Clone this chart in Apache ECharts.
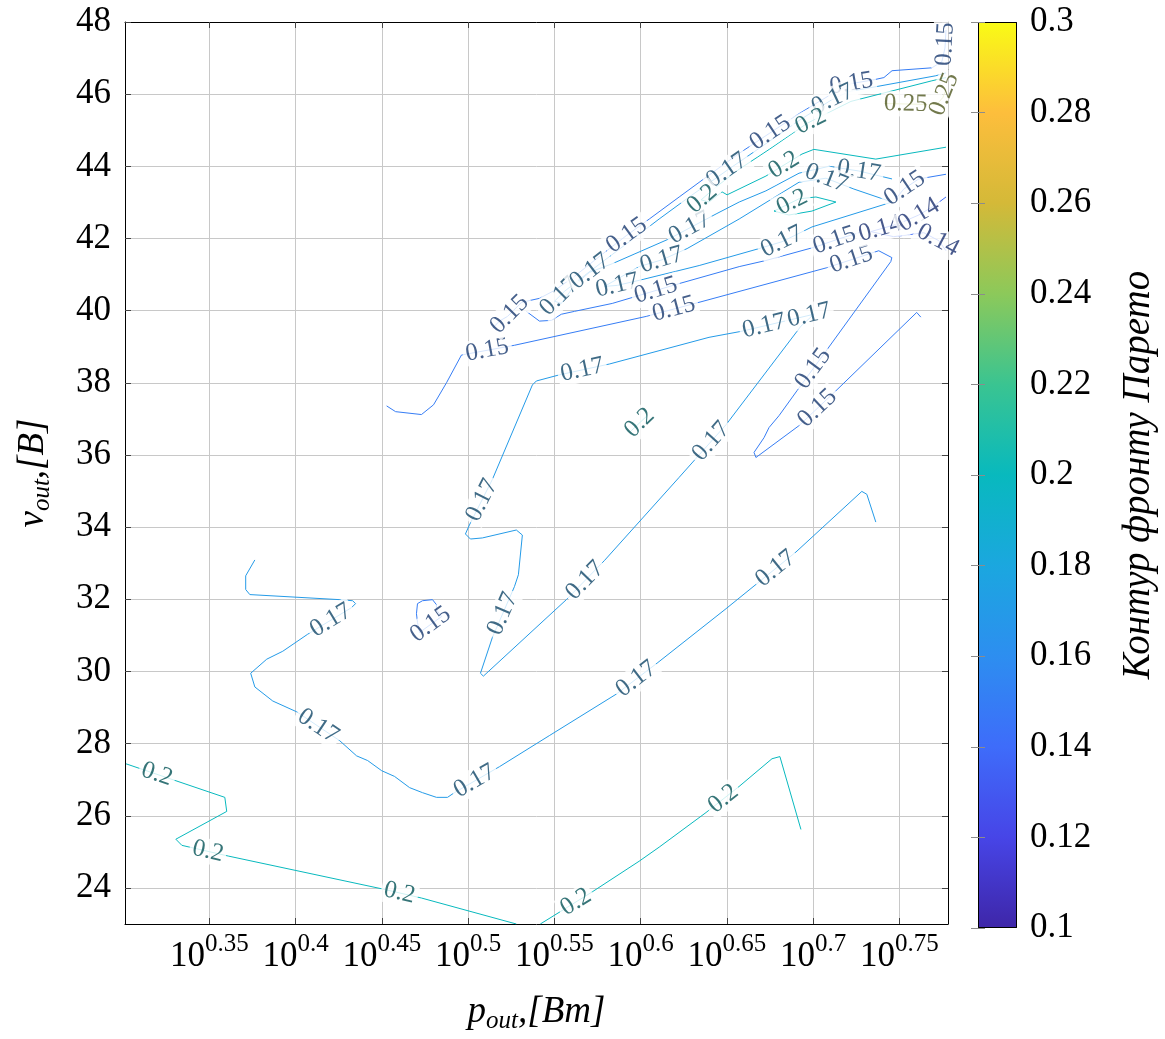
<!DOCTYPE html>
<html>
<head>
<meta charset="utf-8">
<title>Контур фронту Парето</title>
<script src="https://cdn.jsdelivr.net/npm/echarts@6/dist/echarts.min.js"></script>
<style>
  html, body { margin: 0; padding: 0; background: #fff; }
  #chart { width: 1165px; height: 1039px; }
</style>
</head>
<body>
<div id="chart"></div>
<script>
// x is log10(p_out), y is v_out; contour level values go from 0.1 to 0.3
const xTicks = [0.35, 0.4, 0.45, 0.5, 0.55, 0.6, 0.65, 0.7, 0.75];
const xTickLabels = ['0.35', '0.4', '0.45', '0.5', '0.55', '0.6', '0.65', '0.7', '0.75'];
const yTicks = [24, 26, 28, 30, 32, 34, 36, 38, 40, 42, 44, 46, 48];
const xRange = [Math.log10(2), Math.log10(6)];
const yRange = [23, 48];
const levelRange = [0.1, 0.3];

// parula-like colour map, value -> rgb
const colormap = [
  [0.10, [62, 38, 168]], [0.12, [71, 69, 231]], [0.14, [62, 108, 250]],
  [0.16, [45, 142, 240]], [0.18, [27, 167, 223]], [0.20, [8, 185, 190]],
  [0.22, [58, 196, 145]], [0.24, [140, 201, 90]], [0.26, [212, 185, 56]],
  [0.28, [253, 190, 60]], [0.30, [249, 251, 21]]
];

// ---- contour polylines [log10(p), v] and label anchors ----
const c020a = [[0.3016,27.44],[0.3589,26.51],[0.3600,26.12],[0.3305,25.35],[0.3340,25.18],[0.3612,24.88],[0.4504,23.97],[0.4729,23.72],[0.5279,23.00]];
const c020aLab = [[0.3195,27.14],[0.3490,24.99],[0.4602,23.86]];

const c020b = [[0.5418,23.00],[0.5719,23.89],[0.5991,24.74],[0.6107,25.13],[0.6379,26.09],[0.6570,26.81],[0.6761,27.58],[0.6807,27.64],[0.6929,25.62]];
const c020bLab = [[0.5627,23.59],[0.6477,26.48]];

const c017a = [[0.3763,33.09],[0.3710,32.65],[0.3710,32.27],[0.3734,32.13],[0.4255,31.99],[0.4330,31.96],[0.4347,31.88],[0.4324,31.77],[0.4069,31.03],[0.3925,30.56],[0.3832,30.34],[0.3739,29.95],[0.3763,29.57],[0.3867,29.18],[0.4006,28.88],[0.4255,28.08],[0.4353,27.66],[0.4417,27.53],[0.4498,27.25],[0.4573,27.09],[0.4660,26.78],[0.4735,26.64],[0.4816,26.51],[0.4880,26.51],[0.4920,26.64],[0.5181,27.36],[0.5470,28.22],[0.5858,29.37],[0.6095,30.23],[0.6495,31.74],[0.6900,33.31],[0.7282,34.99],[0.7311,34.91],[0.7363,34.14]];
const c017aLab = [[0.4197,31.47],[0.4139,28.55],[0.5036,26.97],[0.5974,29.79],[0.6784,32.84]];

const c015a = [[0.4706,31.36],[0.4700,31.60],[0.4706,31.88],[0.4735,31.96],[0.4793,31.99],[0.4816,31.85],[0.4816,31.71],[0.4845,31.52],[0.4718,31.08],[0.4706,31.36]];
const c015aLab = [[0.4782,31.30]];

const c017b = [[0.5395,38.05],[0.5372,37.94],[0.5140,35.32],[0.5007,34.06],[0.4984,33.81],[0.5013,33.67],[0.5082,33.70],[0.5279,33.92],[0.5314,33.78],[0.5291,32.68],[0.5268,32.35],[0.5140,30.94],[0.5071,29.95],[0.5088,29.87],[0.5569,31.99],[0.5789,33.07],[0.6223,35.38],[0.6495,36.84],[0.6929,39.57],[0.7004,39.90],[0.6587,39.43],[0.6396,39.26],[0.5818,38.52],[0.5528,38.22],[0.5395,38.05]];
const c017bLab = [[0.5661,38.36],[0.5077,34.75],[0.5198,31.60],[0.5673,32.54],[0.6396,36.43],[0.6715,39.57],[0.6975,39.90]];

const c015b = [[0.4527,37.36],[0.4579,37.20],[0.4729,37.12],[0.4799,37.39],[0.4874,38.00],[0.4961,38.77],[0.5268,39.04],[0.6032,39.84],[0.6338,40.23],[0.7079,41.19],[0.7380,41.66],[0.7456,41.47],[0.7450,41.36],[0.7079,38.91],[0.6906,37.78],[0.6802,37.09],[0.6744,36.76],[0.6715,36.48],[0.6657,36.07],[0.6668,35.93],[0.6917,36.81],[0.7132,37.78],[0.7600,39.95],[0.7624,39.82]];
const c015bLab = [[0.5111,38.88],[0.6194,40.01],[0.7224,41.36],[0.6993,38.41],[0.7022,37.31]];

const c020c = [[0.5945,36.67],[0.6038,37.09]];
const c020cLab = [[0.5991,36.90]];

const c015c = [[0.7770,47.78],[0.7764,47.28],[0.7746,46.90],[0.7688,46.73],[0.7457,46.65],[0.7410,46.46],[0.7353,46.40],[0.7219,46.29],[0.7092,45.96],[0.6918,45.46],[0.6745,44.91],[0.6571,44.36],[0.6397,43.76],[0.6223,43.15],[0.6050,42.54],[0.5917,42.08],[0.5760,41.50],[0.5616,40.95],[0.5500,40.56],[0.5413,40.34],[0.5309,40.23],[0.5228,39.84],[0.5181,39.71],[0.5141,39.51]];
const c015cLab = [[0.7752,47.39],[0.7219,46.37],[0.6745,44.97],[0.5917,42.10],[0.5239,39.90]];

const c017c = [[0.7770,46.59],[0.7711,46.51],[0.7207,46.07],[0.7109,45.85],[0.6918,45.27],[0.6745,44.69],[0.6495,43.87],[0.6281,43.15],[0.6107,42.54],[0.5934,41.91],[0.5789,41.39],[0.5673,40.97],[0.5557,40.53],[0.5500,40.26],[0.5540,40.20],[0.5616,40.70],[0.5702,41.06],[0.5835,41.30],[0.6165,41.99],[0.6437,42.68],[0.6571,43.01],[0.6726,43.32],[0.6918,43.81],[0.7092,44.00],[0.7265,43.87],[0.7457,43.65]];
const c017cLab = [[0.7109,45.91],[0.6495,43.92],[0.5528,40.39],[0.5702,41.11],[0.6281,42.32],[0.7265,43.87]];

const c020d = [[0.7770,46.46],[0.7688,46.37],[0.7219,45.80],[0.6964,45.19],[0.6745,44.47],[0.6571,43.92],[0.6443,43.45],[0.6350,43.07],[0.6396,43.01],[0.6472,43.29],[0.6501,43.21],[0.6726,43.73],[0.6935,44.34],[0.7004,44.47],[0.7363,44.20],[0.7770,44.53]];
const c020dLab = [[0.6975,45.35],[0.6356,43.10],[0.6831,44.03]];

const c017d = [[0.5789,40.67],[0.5991,41.22],[0.6124,41.41],[0.6269,41.72],[0.6571,42.54],[0.6918,43.56],[0.7074,43.67],[0.7236,43.37],[0.7457,43.01],[0.6993,42.32],[0.6819,41.91],[0.6686,41.72],[0.6339,41.25],[0.6153,41.03],[0.5991,40.84],[0.5864,40.70],[0.5789,40.67]];
const c017dLab = [[0.6124,41.36],[0.7074,43.65],[0.6819,41.91],[0.5864,40.70]];

const c015d = [[0.5337,39.98],[0.5413,39.71],[0.5482,39.73],[0.5540,39.90],[0.5616,39.98],[0.5835,40.20],[0.6223,40.75],[0.6571,41.22],[0.6726,41.39],[0.7016,41.77],[0.7149,41.99],[0.7265,42.16]];
const c015dLab = [[0.6090,40.53],[0.7120,41.99]];

const c015e = [[0.7770,43.78],[0.7612,43.65],[0.7525,43.37],[0.7479,43.10]];
const c015eLab = [[0.7525,43.43]];

const c014a = [[0.7770,43.15],[0.7699,42.90],[0.7612,42.65],[0.7496,42.41],[0.7334,42.19],[0.7467,42.05],[0.7641,42.16],[0.7728,41.94],[0.7770,41.66]];
const c014aLab = [[0.7392,42.21],[0.7612,42.65],[0.7728,41.99]];

const c020e = [[0.6773,42.76],[0.6918,43.10],[0.7016,43.15],[0.7132,43.01],[0.6993,42.76],[0.6859,42.65],[0.6773,42.76]];
const c020eLab = [[0.6888,42.90]];

const c025a = [[0.7410,45.74],[0.7716,45.71],[0.7752,45.91],[0.7770,46.13]];
const c025aLab = [[0.7537,45.80],[0.7746,46.02]];

const contours = [
  { level: 0.2,  path: c020a, labels: c020aLab },
  { level: 0.2,  path: c020b, labels: c020bLab },
  { level: 0.17, path: c017a, labels: c017aLab },
  { level: 0.15, path: c015a, labels: c015aLab },
  { level: 0.17, path: c017b, labels: c017bLab },
  { level: 0.15, path: c015b, labels: c015bLab },
  { level: 0.2,  path: c020c, labels: c020cLab },
  { level: 0.15, path: c015c, labels: c015cLab },
  { level: 0.17, path: c017c, labels: c017cLab },
  { level: 0.2,  path: c020d, labels: c020dLab },
  { level: 0.17, path: c017d, labels: c017dLab },
  { level: 0.15, path: c015d, labels: c015dLab },
  { level: 0.15, path: c015e, labels: c015eLab },
  { level: 0.14, path: c014a, labels: c014aLab },
  { level: 0.2,  path: c020e, labels: c020eLab },
  { level: 0.25, path: c025a, labels: c025aLab }
];

// ---- styling helpers ----
const SERIF = "'Liberation Serif', 'DejaVu Serif', serif";

function cmapRGB(v) {
  const lo = colormap[0][0], hi = colormap[colormap.length - 1][0];
  const t = Math.min(Math.max(v, lo), hi);
  for (let i = 0; i < colormap.length - 1; i++) {
    const [v0, c0] = colormap[i], [v1, c1] = colormap[i + 1];
    if (t <= v1 + 1e-12) {
      const f = (t - v0) / (v1 - v0);
      return c0.map((c, j) => c + (c1[j] - c) * f);
    }
  }
  return colormap[colormap.length - 1][1];
}
function rgb(c, k) {
  k = k === undefined ? 1 : k;
  return 'rgb(' + c.map(x => Math.round(x * k)).join(',') + ')';
}

const gradientStops = colormap.map(([v, c]) => ({
  offset: (levelRange[1] - v) / (levelRange[1] - levelRange[0]),
  color: rgb(c)
})).reverse();

const chart = echarts.init(document.getElementById('chart'), null, { renderer: 'canvas' });

const tickStyle = { color: '#444', width: 1 };
const frameLine = { show: true, onZero: false, lineStyle: { color: '#000', width: 1 } };

const contourSeries = contours.map((c, i) => ({
  type: 'line',
  id: 'contour' + i,
  xAxisIndex: 0,
  yAxisIndex: 0,
  data: c.path,
  symbol: 'none',
  showSymbol: false,
  clip: true,
  silent: true,
  z: 2,
  lineStyle: { color: rgb(cmapRGB(c.level)), width: 1 }
}));

const option = {
  animation: false,
  backgroundColor: '#fff',
  grid: [
    { left: 125, top: 22, width: 823, height: 906, containLabel: false },
    { left: 978, top: 22, width: 39, height: 906, containLabel: false }
  ],
  xAxis: [
    {
      type: 'value', gridIndex: 0, position: 'bottom',
      min: xRange[0], max: xRange[1],
      axisLine: frameLine,
      axisTick: { show: true, inside: true, length: 6, customValues: xTicks, lineStyle: tickStyle },
      splitLine: { show: true, lineStyle: { color: '#c8c8c8', width: 1 } },
      axisLabel: {
        show: true, customValues: xTicks, margin: 8,
        formatter: v => {
          const i = xTicks.findIndex(t => Math.abs(t - v) < 1e-9);
          return i < 0 ? '' : '{b|10}{s|' + xTickLabels[i] + '}';
        },
        rich: {
          b: { fontFamily: SERIF, fontSize: 35, lineHeight: 42, verticalAlign: 'bottom', color: '#000' },
          s: { fontFamily: SERIF, fontSize: 25, lineHeight: 24, verticalAlign: 'top', color: '#000' }
        }
      },
      name: '{i|p}{sub|out}{i|,[Bm]}',
      nameLocation: 'middle', nameGap: 70,
      nameTextStyle: {
        rich: {
          i: { fontFamily: SERIF, fontStyle: 'italic', fontSize: 37, lineHeight: 40, verticalAlign: 'top', color: '#000' },
          sub: { fontFamily: SERIF, fontStyle: 'italic', fontSize: 25, lineHeight: 22, verticalAlign: 'bottom', color: '#000' }
        }
      }
    },
    {
      type: 'value', gridIndex: 0, position: 'top',
      min: xRange[0], max: xRange[1],
      axisLine: frameLine,
      axisTick: { show: true, inside: true, length: 6, customValues: xTicks, lineStyle: tickStyle },
      axisLabel: { show: false },
      splitLine: { show: false }
    },
    { type: 'value', gridIndex: 1, min: 0, max: 1, show: false }
  ],
  yAxis: [
    {
      type: 'value', gridIndex: 0, position: 'left',
      min: yRange[0], max: yRange[1],
      axisLine: frameLine,
      axisTick: { show: true, inside: true, length: 6, customValues: yTicks, lineStyle: tickStyle },
      splitLine: { show: true, lineStyle: { color: '#c8c8c8', width: 1 } },
      axisLabel: { show: true, customValues: yTicks, margin: 14, fontFamily: SERIF, fontSize: 35, color: '#000' },
      name: '{i|v}{sub|out}{i|,[B]}',
      nameLocation: 'middle', nameGap: 70, nameRotate: 90,
      nameTextStyle: {
        rich: {
          i: { fontFamily: SERIF, fontStyle: 'italic', fontSize: 37, lineHeight: 40, verticalAlign: 'top', color: '#000' },
          sub: { fontFamily: SERIF, fontStyle: 'italic', fontSize: 25, lineHeight: 22, verticalAlign: 'bottom', color: '#000' }
        }
      }
    },
    {
      type: 'value', gridIndex: 0, position: 'right',
      min: yRange[0], max: yRange[1],
      axisLine: frameLine,
      axisTick: { show: true, inside: true, length: 6, customValues: yTicks, lineStyle: tickStyle },
      axisLabel: { show: false },
      splitLine: { show: false }
    },
    {
      type: 'value', gridIndex: 1, position: 'right', z: 6,
      min: levelRange[0], max: levelRange[1], interval: 0.02,
      axisLine: { show: false },
      axisTick: { show: true, inside: true, length: 7, lineStyle: { color: '#8c8c8c', width: 1 } },
      splitLine: { show: false },
      axisLabel: {
        show: true, margin: 13, fontFamily: SERIF, fontSize: 35, color: '#000',
        formatter: v => String(+v.toFixed(2))
      },
      name: 'Контур фронту Парето',
      nameLocation: 'middle', nameGap: 102, nameRotate: 90,
      nameTextStyle: { fontFamily: SERIF, fontStyle: 'italic', fontSize: 39, color: '#000' }
    },
    {
      type: 'value', gridIndex: 1, position: 'left', z: 6,
      min: levelRange[0], max: levelRange[1], interval: 0.02,
      axisLine: { show: false },
      axisTick: { show: true, inside: true, length: 7, lineStyle: { color: '#8c8c8c', width: 1 } },
      axisLabel: { show: false },
      splitLine: { show: false }
    }
  ],
  series: contourSeries.concat([
    {
      type: 'scatter',
      id: 'contourLabels',
      xAxisIndex: 0, yAxisIndex: 0,
      symbol: 'circle', symbolSize: 0,
      silent: true, z: 5,
      data: [],
      label: {
        show: true, position: 'inside',
        fontFamily: SERIF, fontSize: 25,
        backgroundColor: '#fff', padding: [0, 3],
        formatter: p => p.data.text
      }
    },
    {
      type: 'custom',
      id: 'colorbar',
      xAxisIndex: 2, yAxisIndex: 2,
      silent: true, z: 1,
      data: [[0, levelRange[0], 1, levelRange[1]]],
      renderItem: (params, api) => {
        const a = api.coord([api.value(0), api.value(3)]);
        const b = api.coord([api.value(2), api.value(1)]);
        return {
          type: 'rect',
          shape: { x: Math.round(a[0]) + 0.5, y: Math.round(a[1]) + 0.5, width: Math.round(b[0] - a[0]) - 1, height: Math.round(b[1] - a[1]) - 1 },
          style: {
            fill: new echarts.graphic.LinearGradient(0, 0, 0, 1, gradientStops),
            stroke: '#000', lineWidth: 1
          }
        };
      }
    }
  ])
};

chart.setOption(option);

// put each level label on its own contour, turned along the local direction of the line
function placeLabel(path, at) {
  const finder = { seriesIndex: 0 };
  const P = path.map(p => chart.convertToPixel(finder, p));
  const q = chart.convertToPixel(finder, at);
  let best = null;
  for (let i = 0; i < P.length - 1; i++) {
    const [x1, y1] = P[i], [x2, y2] = P[i + 1];
    const dx = x2 - x1, dy = y2 - y1, L2 = dx * dx + dy * dy;
    let t = L2 > 0 ? ((q[0] - x1) * dx + (q[1] - y1) * dy) / L2 : 0;
    t = Math.max(0, Math.min(1, t));
    const px = x1 + t * dx, py = y1 + t * dy;
    const d = (px - q[0]) ** 2 + (py - q[1]) ** 2;
    if (!best || d < best.d) best = { d, px, py, dx, dy };
  }
  let ang = Math.atan2(-best.dy, best.dx) * 180 / Math.PI;
  if (ang > 90) ang -= 180;
  if (ang < -90) ang += 180;
  return { value: chart.convertFromPixel(finder, [best.px, best.py]), rotate: ang };
}

const labelData = [];
contours.forEach(c => {
  const dark = rgb(cmapRGB(c.level), 0.45);
  c.labels.forEach(at => {
    const pl = placeLabel(c.path, at);
    labelData.push({
      value: pl.value,
      text: String(c.level),
      label: { rotate: pl.rotate, color: dark }
    });
  });
});

chart.setOption({ series: [{ id: 'contourLabels', data: labelData }] });
</script>
</body>
</html>
